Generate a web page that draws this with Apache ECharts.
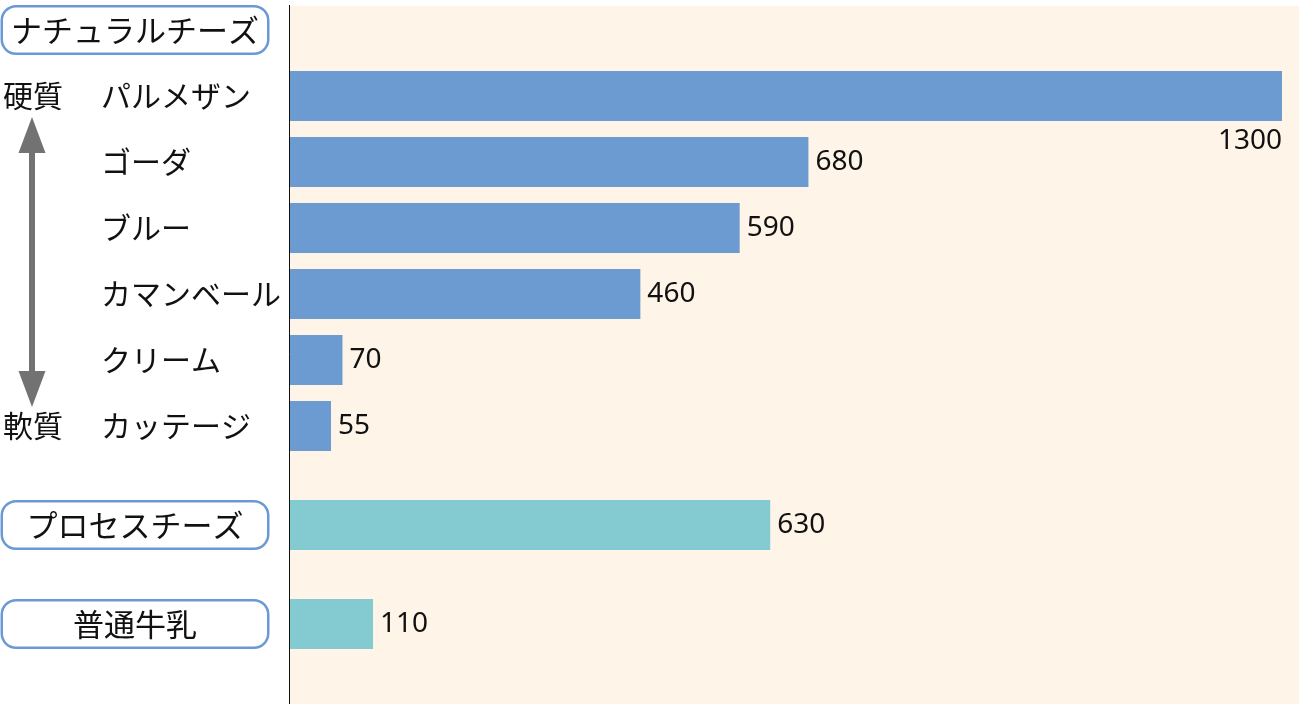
<!DOCTYPE html>
<html>
<head>
<meta charset="utf-8">
<script src="https://cdn.jsdelivr.net/npm/echarts@6/dist/echarts.min.js"></script>
<style>
    html, body { margin: 0; padding: 0; background: #fff; }
    #chart { width: 1299px; height: 704px; }
</style>
</head>
<body>
<div id="chart"></div>
<script>
const groupTitle = 'ナチュラルチーズ'
const cheeseNames = ['パルメザン', 'ゴーダ', 'ブルー', 'カマンベール', 'クリーム', 'カッテージ']
const cheeseValues = [1300, 680, 590, 460, 70, 55]
const hardnessTags = ['硬質', '', '', '', '', '軟質']
const otherNames = ['プロセスチーズ', '普通牛乳']
const otherValues = [630, 110]

const jpFont = '"Noto Sans CJK JP", sans-serif'
const numFont = '"Noto Sans", "Open Sans", sans-serif'
const natColor = '#6b9bd1'
const otherColor = '#83cbd1'

// slots on the category axis (two slots per natural cheese, three between the others)
const slots = []
slots.push({ kind: 'title', text: groupTitle })
slots.push(null)
cheeseNames.forEach((n, i) => {
    slots.push({ kind: 'cheese', text: n, tag: hardnessTags[i], value: cheeseValues[i] })
    slots.push(null)
})
slots.push(null)
otherNames.forEach((n, i) => {
    slots.push({ kind: 'other', text: n, value: otherValues[i] })
    slots.push(null)
    slots.push(null)
})

const axisData = slots.map((s, i) => 's' + i)
const barData = slots.map(s => {
    if (!s || s.value === undefined) return '-'
    const item = {
        value: s.value,
        itemStyle: { color: s.kind === 'cheese' ? natColor : otherColor }
    }
    if (s.value === Math.max(...cheeseValues, ...otherValues)) {
        item.label = {
            position: ['100%', '100%'],
            align: 'right',
            verticalAlign: 'top',
            offset: [0, 6]
        }
    }
    return item
})

const chart = echarts.init(document.getElementById('chart'))
const option = {
    animation: false,
    grid: { left: 289, right: 17, top: 13.5, height: 693, outerBoundsMode: 'none' },
    xAxis: { type: 'value', min: 0, max: 1300, show: false },
    yAxis: {
        type: 'category',
        inverse: true,
        data: axisData,
        axisLine: { show: false },
        axisTick: { show: false },
        axisLabel: {
            interval: 0,
            margin: 286,
            align: 'left',
            formatter: (v, idx) => {
                const s = slots[idx]
                if (!s) return ''
                if (s.kind === 'cheese') {
                    return '{side|' + (s.tag || '') + '}{name|' + s.text + '}'
                }
                return '{box|' + s.text + '}'
            },
            rich: {
                side: { width: 98, fontSize: 30, fontFamily: jpFont, color: '#111' },
                name: { fontSize: 30, fontFamily: jpFont, color: '#111' },
                box: {
                    width: 264, height: 45, align: 'center',
                    fontSize: 31, fontFamily: jpFont, color: '#111',
                    backgroundColor: '#fff',
                    borderColor: '#6a9ad6', borderWidth: 2.5, borderRadius: 13
                }
            }
        }
    },
    graphic: [
        { type: 'rect', z: -10, silent: true, shape: { x: 289, y: 6, width: 1010, height: 698 }, style: { fill: '#fef4e8' } },
        { type: 'line', z: 10, silent: true, shape: { x1: 289.5, y1: 5, x2: 289.5, y2: 704 }, style: { stroke: '#111', lineWidth: 1 } },
        { type: 'line', silent: true, shape: { x1: 32, y1: 150, x2: 32, y2: 375 }, style: { stroke: '#727272', lineWidth: 6 } },
        { type: 'polygon', silent: true, shape: { points: [[32, 117], [18.5, 153], [45.5, 153]] }, style: { fill: '#727272' } },
        { type: 'polygon', silent: true, shape: { points: [[32, 407], [18.5, 371], [45.5, 371]] }, style: { fill: '#727272' } }
    ],
    series: [
        {
            type: 'bar',
            data: barData,
            barWidth: 50,
            label: {
                show: true,
                position: 'right',
                distance: 7,
                fontSize: 28,
                fontFamily: numFont,
                color: '#111'
            }
        }
    ]
}
chart.setOption(option)
</script>
</body>
</html>
